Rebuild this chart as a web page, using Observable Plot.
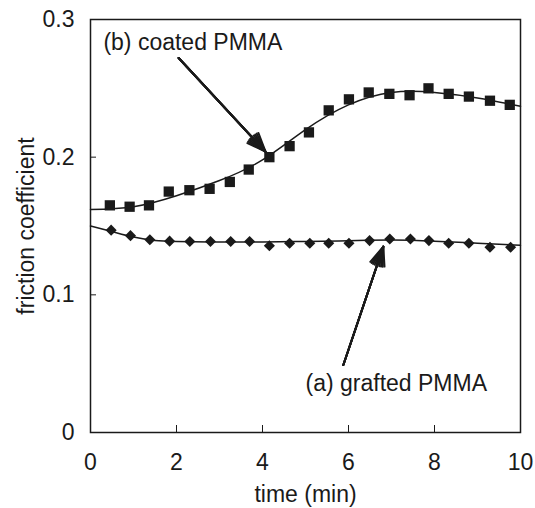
<!DOCTYPE html>
<html>
<head>
<meta charset="utf-8">
<script src="https://cdn.jsdelivr.net/npm/d3@7"></script>
<script src="https://cdn.jsdelivr.net/npm/@observablehq/plot@0.6"></script>
<style>
  html, body { margin: 0; padding: 0; background: white; }
</style>
</head>
<body>
<div id="chart"></div>
<script>
// Measured points
const timeB = [0.45, 0.91, 1.36, 1.82, 2.30, 2.77, 3.24, 3.68, 4.16, 4.63, 5.08, 5.54, 6.01, 6.47, 6.95, 7.42, 7.86, 8.33, 8.80, 9.29, 9.75];
const coated = [0.165, 0.164, 0.165, 0.175, 0.176, 0.177, 0.182, 0.191, 0.200, 0.208, 0.218, 0.234, 0.242, 0.247, 0.246, 0.245, 0.250, 0.246, 0.244, 0.241, 0.238];
const timeA = [0.48, 0.93, 1.38, 1.84, 2.31, 2.79, 3.26, 3.70, 4.16, 4.63, 5.10, 5.54, 6.01, 6.49, 6.96, 7.44, 7.87, 8.33, 8.80, 9.29, 9.77];
const grafted = [0.147, 0.143, 0.140, 0.139, 0.1387, 0.1387, 0.1387, 0.1387, 0.1356, 0.1375, 0.1375, 0.1375, 0.1375, 0.1394, 0.1406, 0.1406, 0.1394, 0.1375, 0.1375, 0.1346, 0.1346];

// Fitted curves
const fitTimeB = [0, 1, 2, 3, 4, 5, 6, 7, 8, 9, 10];
const fitCoated = [0.162, 0.164, 0.172, 0.183, 0.198, 0.220, 0.238, 0.247, 0.247, 0.243, 0.237];
const fitTimeA = [0, 0.5, 1, 1.5, 2, 3, 4, 5, 6, 7, 8, 9, 10];
const fitGrafted = [0.150, 0.146, 0.142, 0.1395, 0.1388, 0.1384, 0.1384, 0.1388, 0.1393, 0.1398, 0.139, 0.1375, 0.136];

// Annotations
const labelTexts = ["(b) coated PMMA", "(a) grafted PMMA"];
const labelX = [0.30, 5.0];
const labelY = [0.283, 0.0356];
const arrowX1 = [2.05, 5.88];
const arrowY1 = [0.272, 0.049];
const arrowX2 = [4.07, 6.81];
const arrowY2 = [0.204, 0.135];
const headAngles = [44, 34, 24, 14, 4];

// Axes
const xTicks = [0, 2, 4, 6, 8, 10];
const yTicks = [0, 0.1, 0.2, 0.3];
const yTickLabels = ["0", "0.1", "0.2", "0.3"];
const xTitle = "time (min)";
const yTitle = "friction coefficient";

const pointsB = timeB.map((t, i) => ({t, v: coated[i]}));
const pointsA = timeA.map((t, i) => ({t, v: grafted[i]}));
const fitB = fitTimeB.map((t, i) => ({t, v: fitCoated[i]}));
const fitA = fitTimeA.map((t, i) => ({t, v: fitGrafted[i]}));
const labels = labelTexts.map((text, i) => ({text, x: labelX[i], y: labelY[i]}));
const arrows = arrowX1.map((x1, i) => ({x1, y1: arrowY1[i], x2: arrowX2[i], y2: arrowY2[i]}));

const ink = "#1a1a1a";
const fs = 23;

const chart = Plot.plot({
  width: 535,
  height: 508,
  marginLeft: 90,
  marginRight: 15,
  marginTop: 19,
  marginBottom: 76,
  style: {fontFamily: "'Liberation Sans', Arial, sans-serif", fontSize: fs + "px", background: "white", color: ink},
  x: {domain: [0, 10]},
  y: {domain: [0, 0.3]},
  marks: [
    Plot.axisX({ticks: xTicks, tickSize: 7, dy: -7, tickFormat: () => "", label: null, stroke: ink}),
    Plot.axisX({ticks: xTicks, tickSize: 0, tickPadding: 21, label: null, fill: ink}),
    Plot.axisY({ticks: yTicks, tickSize: 6, dx: 6, tickFormat: () => "", label: null, stroke: ink}),
    Plot.axisY({ticks: yTicks, tickSize: 0, tickPadding: 16, tickFormat: d => yTickLabels[yTicks.indexOf(d)], label: null, fill: ink}),
    Plot.text([xTitle], {frameAnchor: "bottom", lineAnchor: "middle", dy: 62, fontSize: fs, fill: ink}),
    Plot.text([yTitle], {frameAnchor: "left", textAnchor: "middle", lineAnchor: "middle", dx: -64, rotate: -90, fontSize: fs, fill: ink}),
    Plot.frame({stroke: ink, strokeWidth: 1.5}),
    Plot.line(fitB, {x: "t", y: "v", curve: "natural", stroke: ink, strokeWidth: 1.5}),
    Plot.line(fitA, {x: "t", y: "v", curve: "natural", stroke: ink, strokeWidth: 1.5}),
    Plot.dot(pointsB, {x: "t", y: "v", symbol: "square", r: 5.8, fill: ink, stroke: "none"}),
    Plot.dot(pointsA, {x: "t", y: "v", symbol: "diamond2", r: 5, fill: ink, stroke: "none"}),
    ...headAngles.map(a => Plot.arrow(arrows, {x1: "x1", y1: "y1", x2: "x2", y2: "y2", stroke: ink, strokeWidth: 2, headLength: 15, headAngle: a})),
    Plot.text(labels, {x: "x", y: "y", text: "text", textAnchor: "start", fontSize: fs, fill: ink})
  ]
});
document.getElementById("chart").appendChild(chart);
</script>
</body>
</html>
